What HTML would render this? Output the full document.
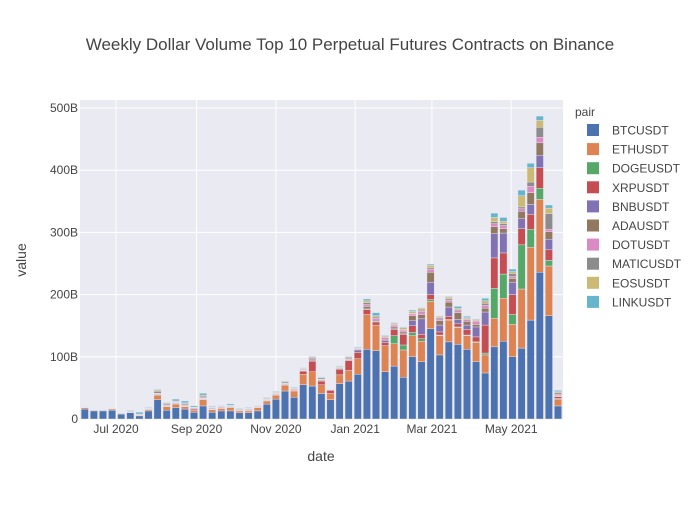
<!DOCTYPE html>
<html><head><meta charset="utf-8"><style>
body{margin:0;background:#fff;font-family:"Liberation Sans",sans-serif;}
svg text{font-family:"Liberation Sans",sans-serif;fill:#444;}
</style></head><body>
<svg id="chart" width="700" height="500" xmlns="http://www.w3.org/2000/svg">
<rect width="700" height="500" fill="#fff"/>
<text x="350" y="50" text-anchor="middle" font-size="17">Weekly Dollar Volume Top 10 Perpetual Futures Contracts on Binance</text>
<rect x="80" y="100" width="483" height="319" fill="#eaeaf2"/>
<g id="grid"></g><g id="bars"></g><g id="axes"></g><g id="legend"></g>
<text x="321" y="461" text-anchor="middle" font-size="14">date</text>
<text transform="translate(26,260) rotate(-90)" text-anchor="middle" font-size="14">value</text>
</svg>
<script>
const startDate = "2020-06-07";
const seriesNames = ["BTCUSDT","ETHUSDT","DOGEUSDT","XRPUSDT","BNBUSDT","ADAUSDT","DOTUSDT","MATICUSDT","EOSUSDT","LINKUSDT"];
const seriesColors = ["#4c72b0","#dd8452","#55a868","#c44e52","#8172b3","#937860","#da8bc3","#8c8c8c","#ccb974","#64b5cd"];
const btc = [16,13,13,14,8,10,5,13,31,14,18,16,11,21,11,13,13,10,10,13,24,32,45,35,55,53,41,31,57,61,72,112,110,76,85,67,100,92,145,103,124,120,112,92,74,116,125,100,114,159,236,166,21];
const eth = [2,1,1,2,1,1,1,2,7,6,6,4,3,10,4,4,5,3,3,5,5,6,9,10,17,23,14,10,14,17,25,56,41,42,36,44,34,33,44,31,35,27,22,31,29,46,69,52,95,117,117,80,11];
const doge = [0,0,0,0,0,0,0,0,0,0,0,0,0,0,0,0,0,0,0,0,0,0,0,0,0,0,0,0,0,0,0,0,0,0,13,8,5,4,3,1,1,1,1,1,3,48,39,16,71,29,18,9,1];
const xrp = [0.5,0,0,0.5,0,0,0,0.5,1,0.5,0.5,0.5,2,1,0.5,0.5,0.5,0.5,0.5,0.5,0.5,1,1,1,5,17,6,5,9,16,10,8,5,5,10,17,11,7,8,5,5,5,9,8,45,49,34,32,26,24,33,17,3];
const bnb = [0,0,0,0,0,0,0,0,0.5,0.5,0.5,0.5,0,0.5,0.5,0,0,0,0,0,0.5,0.5,0.5,0.5,0.5,1,1,0,0.5,1,4,1,1,3,1,1,8,25,20,11,15,7,7,16,21,39,32,20,16,16,20,17,1];
const ada = [0,0,0,0,0,0,0,0,1,1,1,1,0,1,1,0,1,0,1,0,1,1,1,1,1,2,1,0,1,1,1,4,2,2,3,3,8,7,16,7,8,11,6,4,6,11,7,6,12,19,20,12,1];
const dot = [0,0,0,0,0,0,0,0,1,1,1,1,1,1,1,1,1,1,1,1,1,1,1,1,1,1,1,1,1,1,1,3,3,3,3,3,3,5,5,3,3,3,3,5,5,5,5,3,4,10,9,4,2];
const matic = [0.5,0.5,0.5,0.5,0.5,1,1,1,3,2,1,2,1,2,1,1,1,1,1,1,1,1,2,1,1,2,2,0.5,1,2,1,3,2,1,1,1,1,2,2,2,2,2,1,1,3,3,3,5,3,7,16,25,2];
const eos = [0,0,0,0,0,1,1,1,2,1,1,1,1,2,1,1,1,1,1,1,1,1,1,1,1,1,1,0,1,1,1,3,2,2,2,3,3,3,4,2,3,2,2,2,4,7,4,3,18,23,11,9,2];
const link = [0.5,0.5,0.5,0.5,0.5,1,3,1,1,1,3,3,2,3,1,1,2,1,1,0,1,1,1,1,1,1,1,0.5,1,1,1,3,5,1,1,1,2,1,2,1,1,3,2,1,4,7,6,4,9,7,7,5,2];
const yTicks = [0,100,200,300,400,500];
const yTickLabels = ["0","100B","200B","300B","400B","500B"];
const xTickDates = ["2020-07-01","2020-09-01","2020-11-01","2021-01-01","2021-03-01","2021-05-01"];
const xTickLabels = ["Jul 2020","Sep 2020","Nov 2020","Jan 2021","Mar 2021","May 2021"];

const series=[btc,eth,doge,xrp,bnb,ada,dot,matic,eos,link];
const NS="http://www.w3.org/2000/svg";
const day=86400000, ref=Date.parse("2020-07-01");
function xs(t){return 116+(t-ref)/day*1.3;}
function ys(v){return 419-v*0.622;}
function mk(tag,attrs,parent){const e=document.createElementNS(NS,tag);for(const k in attrs)e.setAttribute(k,attrs[k]);parent.appendChild(e);return e;}
const grid=document.getElementById('grid'),bars=document.getElementById('bars'),axes=document.getElementById('axes'),leg=document.getElementById('legend');
yTicks.forEach((v,i)=>{
  if(v>0){const l=mk('line',{x1:80,x2:563,y1:ys(v),y2:ys(v),stroke:'#fff','stroke-width':1},grid);
  
  }
  const t=mk('text',{x:78,y:ys(v)+4,'text-anchor':'end','font-size':12},axes);t.textContent=yTickLabels[i];
  
  
});
xTickDates.forEach((d,i)=>{
  const x=xs(Date.parse(d));
  const l=mk('line',{x1:x,x2:x,y1:100,y2:419,stroke:'#fff','stroke-width':1},grid);
  
  
  const t=mk('text',{x:x,y:433,'text-anchor':'middle','font-size':12},axes);t.textContent=xTickLabels[i];
  
  
});
const s0=Date.parse(startDate);
for(let i=0;i<btc.length;i++){
  const cx=xs(s0+i*7*day);let acc=0;
  series.forEach((arr,si)=>{
    const v=arr[i];if(!v)return;
    const y1=ys(acc),y2=ys(acc+v);acc+=v;
    const r=mk('rect',{x:cx-3.65,y:y2,width:7.3,height:y1-y2,fill:seriesColors[si],stroke:'#eaeaf2','stroke-width':0.4},bars);
    
    
  });
}
const lt=mk('text',{x:575,y:116,'font-size':12},leg);lt.textContent='pair';


seriesNames.forEach((n,i)=>{
  const y=130+i*19.1;
  const g=mk('g',{},leg);
  
  
  mk('rect',{x:587,y:y-6,width:12,height:12,fill:seriesColors[i]},g);
  const t=mk('text',{x:612,y:y+4.5,'font-size':12},g);t.textContent=n;
});
</script>
</body></html>
